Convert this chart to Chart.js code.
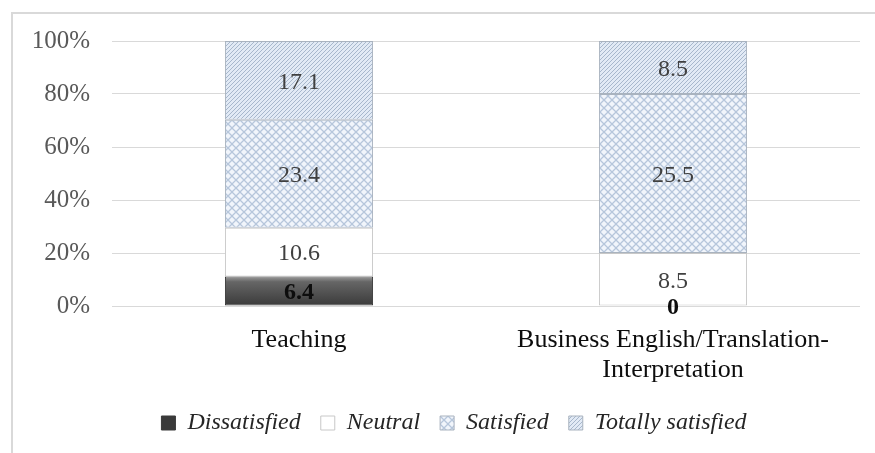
<!DOCTYPE html>
<html>
<head>
<meta charset="utf-8">
<script src="https://cdn.jsdelivr.net/npm/chart.js@4.4.1/dist/chart.umd.min.js"></script>
<style>
  html, body { margin: 0; padding: 0; background: #fff; }
  #wrap { width: 875px; height: 453px; position: relative; }
</style>
</head>
<body>
<div id="wrap"><canvas id="satisfaction-chart"></canvas></div>
<script>
// values (counts shown inside the bars)
var categories = ["Teaching", ["Business English/Translation-", "Interpretation"]];
var seriesNames = ["Dissatisfied", "Neutral", "Satisfied", "Totally satisfied"];
var dissatisfied = [6.4, 0];
var neutral = [10.6, 8.5];
var satisfied = [23.4, 25.5];
var totallySatisfied = [17.1, 8.5];
var yTicks = [0, 20, 40, 60, 80, 100];

var rawSeries = [dissatisfied, neutral, satisfied, totallySatisfied];

// 100% stacked: turn each column into shares of its total
var totals = categories.map(function (c, j) {
  return rawSeries.reduce(function (s, arr) { return s + arr[j]; }, 0);
});
function toPct(arr) {
  return arr.map(function (v, j) { return v / totals[j] * 100; });
}

var canvas = document.getElementById("satisfaction-chart");
var ctx = canvas.getContext("2d");

function makeTile(size, draw) {
  var c = document.createElement("canvas");
  c.width = size; c.height = size;
  draw(c.getContext("2d"), size);
  return ctx.createPattern(c, "repeat");
}

// light diagonal hatch
var hatch = makeTile(4, function (g, s) {
  g.fillStyle = "#e2eaf5";
  g.fillRect(0, 0, s, s);
  g.strokeStyle = "#a7b7cc";
  g.lineWidth = 1;
  g.beginPath();
  g.moveTo(0, s); g.lineTo(s, 0);
  g.moveTo(-1, 1); g.lineTo(1, -1);
  g.moveTo(s - 1, s + 1); g.lineTo(s + 1, s - 1);
  g.stroke();
});

// diamond cross hatch
var cross = makeTile(8, function (g, s) {
  g.fillStyle = "#f1f5fb";
  g.fillRect(0, 0, s, s);
  g.strokeStyle = "#b6c6db";
  g.lineWidth = 1.3;
  g.beginPath();
  g.moveTo(0, 0); g.lineTo(s, s);
  g.moveTo(0, s); g.lineTo(s, 0);
  g.stroke();
});

function darkFill(context) {
  var chart = context.chart;
  var area = chart.chartArea;
  if (!area) return "#4a4a4a";
  var top = chart.scales.y.getPixelForValue(toPct(dissatisfied)[0]);
  var grad = chart.ctx.createLinearGradient(0, top, 0, area.bottom);
  grad.addColorStop(0, "#9c9c9c");
  grad.addColorStop(0.18, "#666666");
  grad.addColorStop(0.6, "#4f4f4f");
  grad.addColorStop(1, "#3a3a3a");
  return grad;
}

var fills = [darkFill, "#ffffff", cross, hatch];
var borders = ["#3a3a3a", "#c8c8c8", "#a9b3bf", "#a9b3bf"];

var barLabels = {
  id: "barLabels",
  afterDatasetsDraw: function (chart) {
    var c = chart.ctx;
    chart.data.datasets.forEach(function (ds, i) {
      var meta = chart.getDatasetMeta(i);
      meta.data.forEach(function (bar, j) {
        c.save();
        c.font = (i === 0 ? "bold " : "") + "24px 'Liberation Serif'";
        c.fillStyle = i === 0 ? "#0d0d0d" : "#404040";
        c.textAlign = "center";
        c.textBaseline = "middle";
        c.fillText(String(rawSeries[i][j]), bar.x, (bar.y + bar.base) / 2 + 2);
        c.restore();
      });
    });
  }
};

// outer frame of the figure, and nudge the legend a bit to the right
var frame = {
  id: "frame",
  afterLayout: function (chart) {
    var lg = chart.legend;
    if (lg) {
      lg.left += 24;
      lg.right += 24;
      lg.adjustHitBoxes();
    }
  },
  beforeDraw: function (chart) {
    var c = chart.ctx;
    c.save();
    c.fillStyle = "#ffffff";
    c.fillRect(0, 0, chart.width, chart.height);
    c.strokeStyle = "#d9d9d9";
    c.lineWidth = 2;
    c.strokeRect(12, 13, chart.width + 10, chart.height + 10);
    c.restore();
  }
};

new Chart(canvas, {
  type: "bar",
  data: {
    labels: categories,
    datasets: seriesNames.map(function (name, i) {
      return {
        label: name,
        data: toPct(rawSeries[i]),
        backgroundColor: fills[i],
        borderColor: borders[i],
        borderWidth: 1,
        borderSkipped: false,
        categoryPercentage: 1,
        barPercentage: 0.396
      };
    })
  },
  options: {
    responsive: true,
    maintainAspectRatio: false,
    animation: false,
    layout: { padding: { top: 41, right: 15, bottom: 8, left: 0 } },
    plugins: {
      tooltip: { enabled: false },
      legend: {
        position: "bottom",
        labels: {
          boxWidth: 14,
          boxHeight: 14,
          padding: 20,
          color: "#262626",
          font: { family: "'Liberation Serif'", size: 24, style: "italic" }
        }
      }
    },
    scales: {
      x: {
        stacked: true,
        grid: { display: false },
        border: { display: false },
        ticks: {
          color: "#0d0d0d",
          padding: 11,
          maxRotation: 0,
          font: { family: "'Liberation Serif'", size: 26, lineHeight: 1.15 }
        },
        afterFit: function (s) { s.height = 85; }
      },
      y: {
        stacked: true,
        min: 0,
        max: 100,
        border: { display: false },
        grid: { color: "#d9d9d9", drawTicks: false },
        afterBuildTicks: function (s) {
          s.ticks = yTicks.map(function (v) { return { value: v }; });
        },
        ticks: {
          color: "#595959",
          padding: 22,
          font: { family: "'Liberation Serif'", size: 25 },
          callback: function (v) { return v + "%"; }
        },
        afterFit: function (s) { s.width = 112; }
      }
    }
  },
  plugins: [frame, barLabels]
});
</script>
</body>
</html>
